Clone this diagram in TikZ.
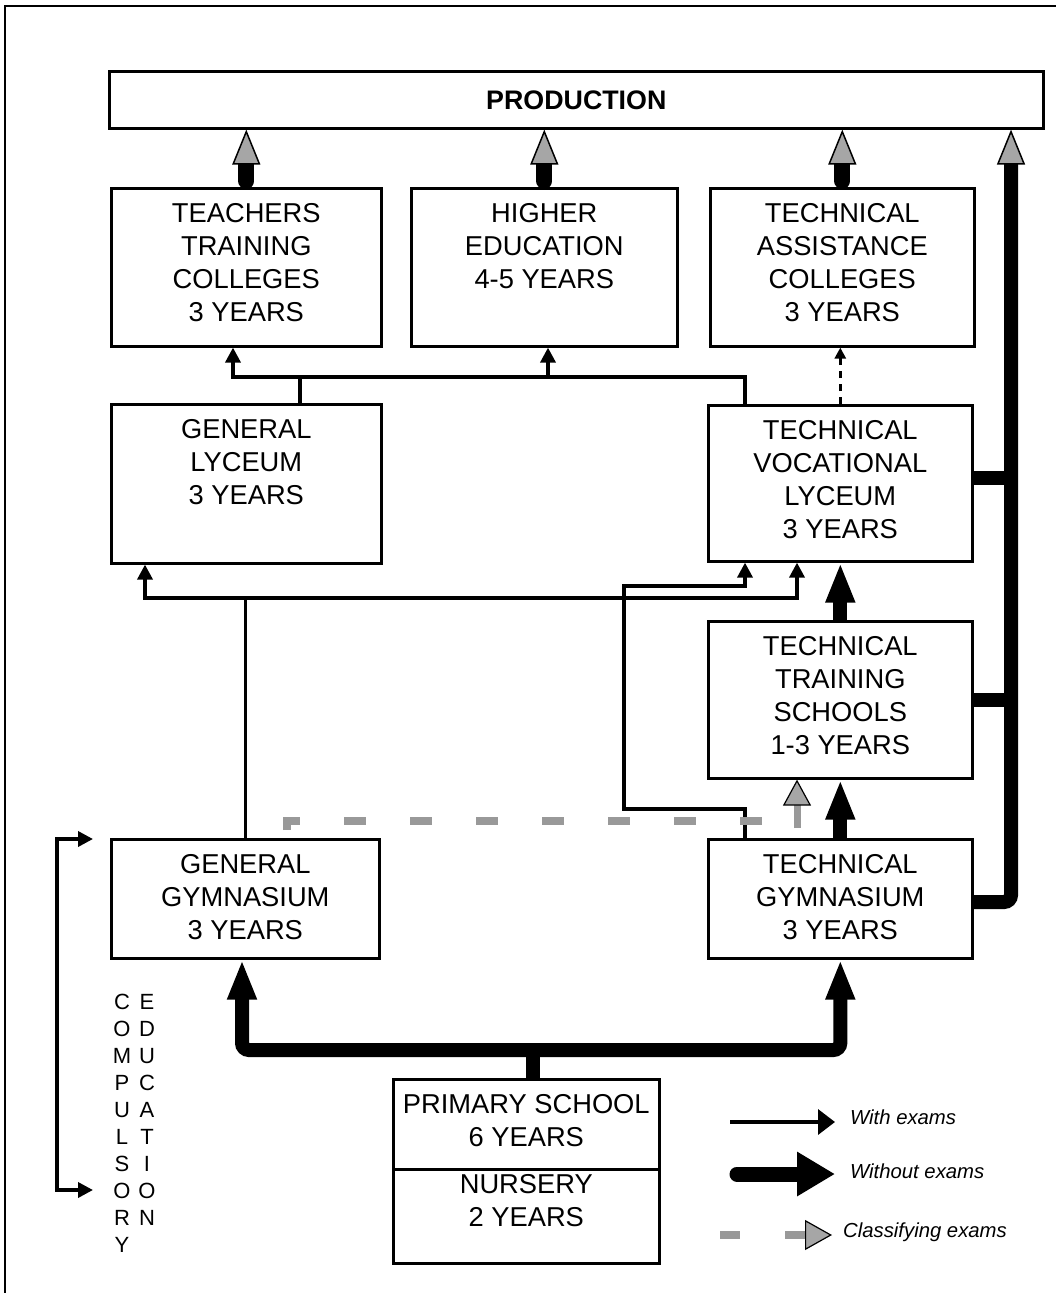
\documentclass[tikz,border=0pt]{standalone}
\usepackage{fontspec}
\setmainfont{Liberation Sans}
\usetikzlibrary{arrows.meta}
\begin{document}
\begin{tikzpicture}[x=1pt,y=-1pt,
  box/.style={draw, line width=2.6pt, inner sep=0pt, anchor=north west},
  txt/.style={anchor=north, align=center, inner sep=0pt, font=\fontsize{27.3}{33}\selectfont},
  comp/.style={anchor=north, align=center, inner sep=0pt, font=\fontsize{22}{27}\selectfont},
  legtxt/.style={anchor=west, inner sep=0pt, font=\itshape\fontsize{20.3}{24}\selectfont},
  tipthin/.tip={Triangle[length=15pt,width=15pt]},
  tipheavy/.tip={Triangle[length=40pt,width=27pt]},
  tipprod/.tip={Triangle[length=35pt,width=28pt,line width=1.5pt,fill=black!35,color=black]},
  tipclass/.tip={Triangle[length=26pt,width=28pt,line width=1.2pt,fill=black!35,color=black]},
  plain/.style={line width=3.5pt},
  exam/.style={line width=3.5pt, -tipthin},
  examboth/.style={line width=3.5pt, tipthin-tipthin},
  heavy/.style={line width=14pt},
  prodstem/.style={line width=16pt, line cap=round, -tipprod},
  classline/.style={line width=8pt, draw=black!40, dash pattern=on 22pt off 44pt},
  classstem/.style={line width=7pt, draw=black!40, -tipclass}
]
\useasboundingbox (0,0) rectangle (1056,1293);

% page frame
\draw[line width=2.5pt] (5,1293) -- (5,6) -- (1056,6);

% institutions
\node[box, minimum width=934pt, minimum height=57pt,
      font=\bfseries\fontsize{26.8}{30}\selectfont] (prod) at (108,70) {PRODUCTION};

\node[box, minimum width=270pt, minimum height=158pt] (ttc) at (110,187) {};
\node[box, minimum width=266pt, minimum height=158pt] (he)  at (410,187) {};
\node[box, minimum width=264pt, minimum height=158pt] (tac) at (709,187) {};
\node[box, minimum width=270pt, minimum height=159pt] (gl)  at (110,403) {};
\node[box, minimum width=264pt, minimum height=156pt] (tvl) at (707,404) {};
\node[box, minimum width=264pt, minimum height=157pt] (tts) at (707,620) {};
\node[box, minimum width=268pt, minimum height=119pt] (gg)  at (110,838) {};
\node[box, minimum width=264pt, minimum height=119pt] (tg)  at (707,838) {};
\node[box, minimum width=266pt, minimum height=90pt]  (ps)  at (392,1078) {};
\node[box, minimum width=266pt, minimum height=94pt]  (ns)  at (392,1168) {};

\node[txt] (ttc-t) at ([yshift=-16pt]ttc.north) {TEACHERS\\TRAINING\\COLLEGES\\3 YEARS};
\node[txt] (he-t)  at ([yshift=-16pt]he.north)  {HIGHER\\EDUCATION\\4-5 YEARS};
\node[txt] (tac-t) at ([yshift=-16pt]tac.north) {TECHNICAL\\ASSISTANCE\\COLLEGES\\3 YEARS};
\node[txt] (gl-t)  at ([yshift=-16pt]gl.north)  {GENERAL\\LYCEUM\\3 YEARS};
\node[txt] (tvl-t) at ([yshift=-16pt]tvl.north) {TECHNICAL\\VOCATIONAL\\LYCEUM\\3 YEARS};
\node[txt] (tts-t) at ([yshift=-16pt]tts.north) {TECHNICAL\\TRAINING\\SCHOOLS\\1-3 YEARS};
\node[txt] (gg-t)  at ([yshift=-16pt]gg.north)  {GENERAL\\GYMNASIUM\\3 YEARS};
\node[txt] (tg-t)  at ([yshift=-16pt]tg.north)  {TECHNICAL\\GYMNASIUM\\3 YEARS};
\node[txt] (ps-t)  at ([yshift=-16pt]ps.north)  {PRIMARY SCHOOL\\6 YEARS};
\node[txt] (ns-t)  at ([yshift=-6pt]ns.north)   {NURSERY\\2 YEARS};

% into production
\draw[prodstem] ([yshift=6pt]ttc.north) -- (ttc.north |- prod.south);
\draw[prodstem] ([yshift=6pt]he.north)  -- (he.north |- prod.south);
\draw[prodstem] ([yshift=6pt]tac.north) -- (tac.north |- prod.south);

% technical spine to production
\coordinate (sp) at (1011,902);
\draw[heavy] (tts.east) -- (tts.east -| sp);
\draw[heavy] ([yshift=5pt]tvl.east) -- ([yshift=5pt]tvl.east -| sp);
\draw[heavy, rounded corners=7pt, -tipprod] (tg.east |- sp) -- (sp) -- (prod.south -| sp);

% lyceums to the upper level
\coordinate (ja) at (233,377);
\coordinate (jb) at (745,377);
\coordinate (jh) at (548,377);
\coordinate (jg) at (300,377);
\draw[plain] (gl.north -| jg) -- (jg);
\draw[exam] (tvl.north -| jb) -- (jb) -- (ja) -- (ttc.south -| ja);
\draw[exam] (jh) -- (he.south -| jh);
\draw[line width=2.8pt, dash pattern=on 7pt off 6pt, -{Triangle[length=11pt,width=11pt]}]
  (tvl.north) -- (tvl.north |- tac.south);

% gymnasiums to lyceums
\coordinate (gy-l) at (145,598);
\coordinate (gy-r) at (797,598);
\draw[plain] (gg.north) -- (gg.north |- gy-l);
\draw[examboth] (gl.south -| gy-l) -- (gy-l) -- (gy-r) -- (tvl.south -| gy-r);

\coordinate (l1) at (745,809);
\coordinate (l2) at (624,809);
\coordinate (l3) at (624,586);
\coordinate (l4) at (745,586);
\draw[exam] (tg.north -| l1) -- (l1) -- (l2) -- (l3) -- (l4) -- (tvl.south -| l4);

% technical route without exams
\draw[heavy, -tipheavy] (tg.north) -- (tts.south);
\draw[heavy, -tipheavy] (tts.north) -- (tvl.south);

% classifying exams
\coordinate (cs0) at (287,830);
\coordinate (cs1) at (287,821);
\coordinate (cs2) at (765,821);
\draw[classline] (cs0) -- (cs1) -- (cs2);
\coordinate (ca) at (797,828);
\draw[classstem] (ca) -- (tts.south -| ca);

% primary school to gymnasiums
\coordinate (tb) at (533,1050);
\coordinate (tl) at (242,1050);
\draw[heavy] (ps.north -| tb) -- (tb);
\draw[heavy, rounded corners=7pt, tipheavy-tipheavy]
  (gg.south -| tl) -- (tl) -- (tg.south |- tb) -- (tg.south);

% compulsory education bracket
\coordinate (b0) at (93,839);
\coordinate (b1) at (57,839);
\coordinate (b2) at (57,1190);
\coordinate (b3) at (93,1190);
\draw[examboth] (b0) -- (b1) -- (b2) -- (b3);
\node[comp] (c1) at (122,994) {C\\O\\M\\P\\U\\L\\S\\O\\R\\Y};
\node[comp] (c2) at (147,994) {E\\D\\U\\C\\A\\T\\I\\O\\N};

% legend
\coordinate (lw0) at (730,1122);
\coordinate (lw1) at (835,1122);
\draw[line width=3.5pt, -{Triangle[length=17pt,width=25pt]}] (lw0) -- (lw1);
\coordinate (lh0) at (737,1174);
\coordinate (lh1) at (835,1174);
\draw[line width=15pt, line cap=round, -{Triangle[length=38pt,width=42pt]}] (lh0) -- (lh1);
\coordinate (lc0) at (720,1235);
\coordinate (lc1) at (740,1235);
\coordinate (lc2) at (785,1235);
\coordinate (lc3) at (832,1235);
\draw[line width=8pt, draw=black!40] (lc0) -- (lc1);
\draw[line width=8pt, draw=black!40, -{Triangle[length=27pt,width=30pt,line width=1.2pt,fill=black!35,color=black]}] (lc2) -- (lc3);
\node[legtxt] (lt1) at (850,1117) {With exams};
\node[legtxt] (lt2) at (850,1171) {Without exams};
\node[legtxt] (lt3) at (843,1232) {Classifying exams};
\end{tikzpicture}
\end{document}
